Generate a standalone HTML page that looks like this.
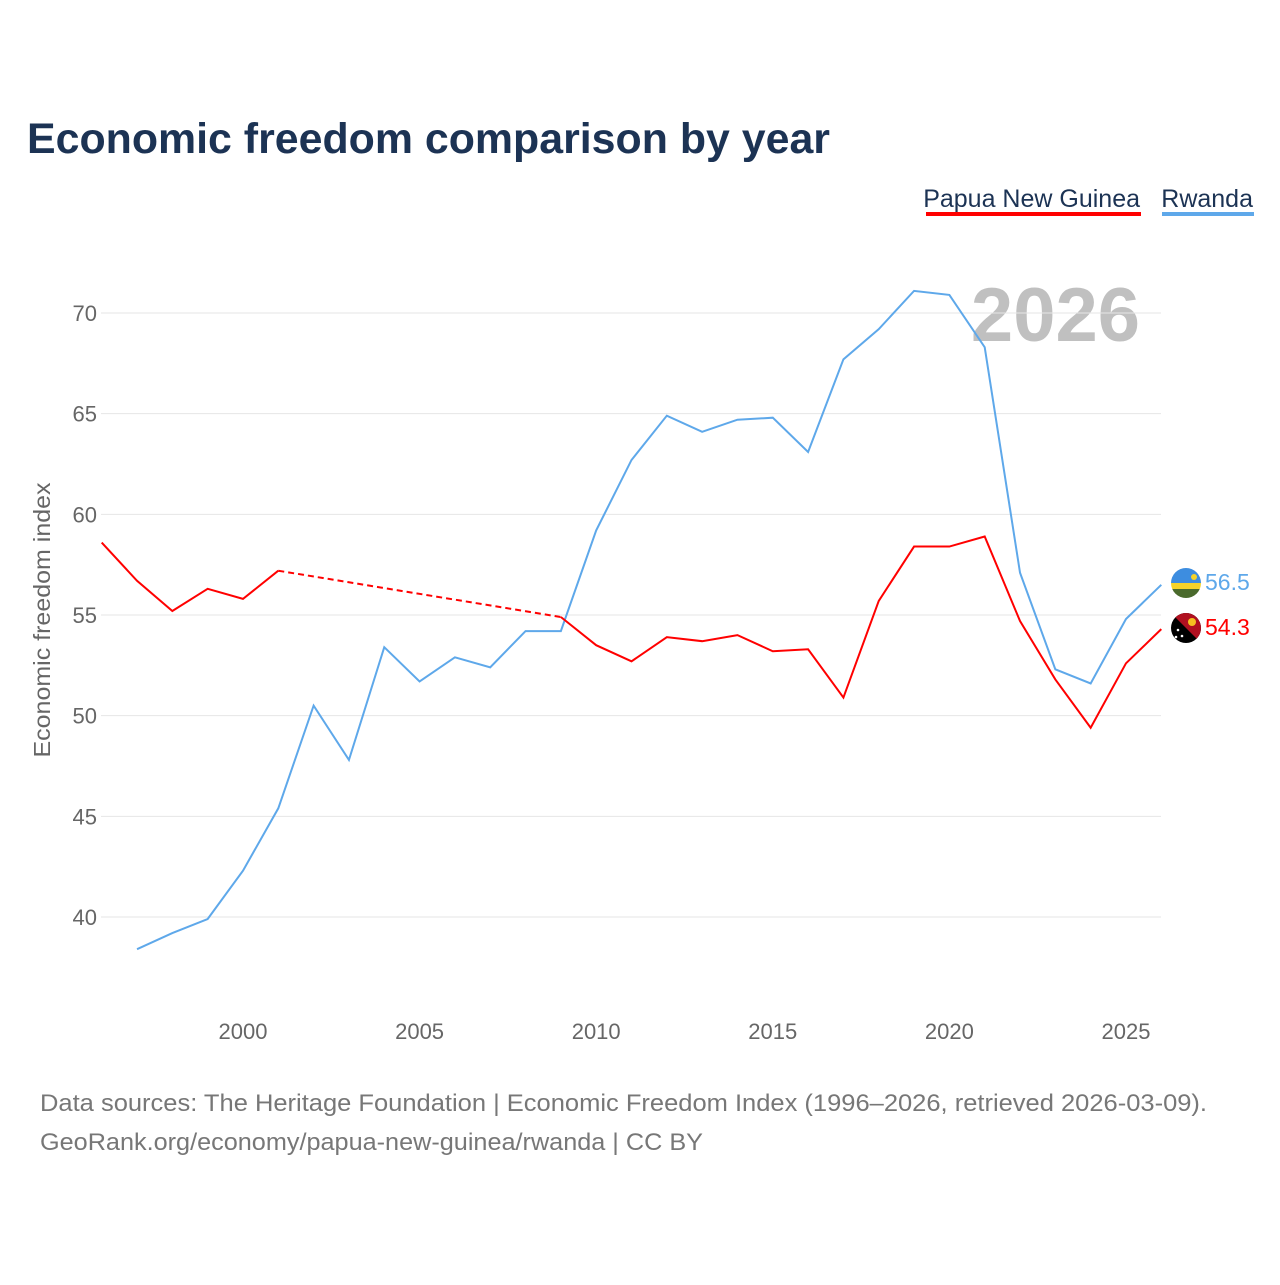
<!DOCTYPE html>
<html><head><meta charset="utf-8"><style>
body{margin:0;background:#fff;font-family:"Liberation Sans",sans-serif;}
</style></head><body>
<svg width="1280" height="1280" xmlns="http://www.w3.org/2000/svg">
<defs>
<clipPath id="c1"><circle cx="1186" cy="583" r="15"/></clipPath>
<clipPath id="c2"><circle cx="1186" cy="628" r="15"/></clipPath>
</defs>
<text x="27" y="153" font-size="43" font-weight="bold" fill="#1c3354" textLength="803" lengthAdjust="spacingAndGlyphs">Economic freedom comparison by year</text>
<g><text x="1140" y="207" text-anchor="end" font-size="25" fill="#1c3354">Papua New Guinea</text><rect x="926" y="212" width="215" height="4" fill="#ff0000"/></g>
<g><text x="1253" y="207" text-anchor="end" font-size="25" fill="#1c3354">Rwanda</text><rect x="1162" y="212" width="92" height="4" fill="#5ea8ea"/></g>
<text x="1140" y="341" text-anchor="end" font-size="76" font-weight="bold" fill="#c0c0c0">2026</text>
<g id="grid"></g>
<g id="yt"></g>
<g id="xt"></g>
<text transform="translate(50,620) rotate(-90)" text-anchor="middle" font-size="23" fill="#666" textLength="275" lengthAdjust="spacingAndGlyphs">Economic freedom index</text>
<g id="lines"></g>
<g clip-path="url(#c1)"><rect x="1171" y="568" width="30" height="15" fill="#3d8de0"/><rect x="1171" y="583" width="30" height="6" fill="#f5d32a"/><rect x="1171" y="589" width="30" height="10" fill="#4a6a2c"/><circle cx="1194" cy="577" r="3" fill="#f5d32a"/></g>
<g clip-path="url(#c2)"><rect x="1171" y="613" width="30" height="30" fill="#000"/><polygon points="1171,613 1201,613 1201,643" fill="#b01020"/><circle cx="1192" cy="622" r="4" fill="#f5c020"/><circle cx="1178" cy="630" r="1.3" fill="#fff"/><circle cx="1182" cy="636" r="1.3" fill="#fff"/><circle cx="1176" cy="637" r="1.3" fill="#fff"/></g>
<text x="1205" y="590" font-size="23" fill="#5ea8ea">56.5</text>
<text x="1205" y="635" font-size="23" fill="#ff0000">54.3</text>
<text x="40" y="1111" font-size="24" fill="#777" textLength="1167" lengthAdjust="spacingAndGlyphs">Data sources: The Heritage Foundation | Economic Freedom Index (1996–2026, retrieved 2026-03-09).</text>
<text x="40" y="1150" font-size="24" fill="#777" textLength="663" lengthAdjust="spacingAndGlyphs">GeoRank.org/economy/papua-new-guinea/rwanda | CC BY</text>
</svg>
<script>
const years=[1996,1997,1998,1999,2000,2001,2002,2003,2004,2005,2006,2007,2008,2009,2010,2011,2012,2013,2014,2015,2016,2017,2018,2019,2020,2021,2022,2023,2024,2025,2026];
const pngValues=[58.6,56.7,55.2,56.3,55.8,57.2,null,null,null,null,null,null,null,54.9,53.5,52.7,53.9,53.7,54.0,53.2,53.3,50.9,55.7,58.4,58.4,58.9,54.7,51.8,49.4,52.6,54.3];
const rwandaValues=[null,38.4,39.2,39.9,42.3,45.4,50.5,47.8,53.4,51.7,52.9,52.4,54.2,54.2,59.2,62.7,64.9,64.1,64.7,64.8,63.1,67.7,69.2,71.1,70.9,68.3,57.1,52.3,51.6,54.8,56.5];
const yTicks=[40,45,50,55,60,65,70];
const xTicks=[2000,2005,2010,2015,2020,2025];
const NS="http://www.w3.org/2000/svg";
const X=y=>101.7+(y-1996)*35.32;
const Y=v=>917-(v-40)*20.133;
function mk(t,a,p){const e=document.createElementNS(NS,t);for(const k in a)e.setAttribute(k,a[k]);p.appendChild(e);return e;}
const grid=document.getElementById('grid'),yt=document.getElementById('yt'),xt=document.getElementById('xt'),lines=document.getElementById('lines');
yTicks.forEach(v=>{
 const l=mk('line',{x1:101,x2:1161,y1:Y(v),y2:Y(v),stroke:'#e6e6e6','stroke-width':1},grid);
 
 
 const t=mk('text',{x:97,y:Y(v)+8,'text-anchor':'end','font-size':22,fill:'#666'},yt);t.textContent=v;
 
 
});
xTicks.forEach(v=>{
 const t=mk('text',{x:X(v),y:1039,'text-anchor':'middle','font-size':22,fill:'#666'},xt);t.textContent=v;
 
 
});
function draw(vals,color,name){
 let seg=[],segs=[];
 vals.forEach((v,i)=>{if(v==null){if(seg.length)segs.push(seg);seg=[];}else seg.push([X(years[i]),Y(v)]);});
 if(seg.length)segs.push(seg);
 segs.forEach(s=>{const p=mk('polyline',{points:s.map(q=>q.join(',')).join(' '),fill:'none',stroke:color,'stroke-width':2},lines);
  
  });
 for(let i=0;i<segs.length-1;i++){const a=segs[i][segs[i].length-1],b=segs[i+1][0];
  const d=mk('line',{x1:a[0],y1:a[1],x2:b[0],y2:b[1],stroke:color,'stroke-width':2,'stroke-dasharray':'6,4'},lines);
  
  }
}
draw(rwandaValues,'#5ea8ea','rwanda');
draw(pngValues,'#ff0000','png');
</script>
</body></html>
